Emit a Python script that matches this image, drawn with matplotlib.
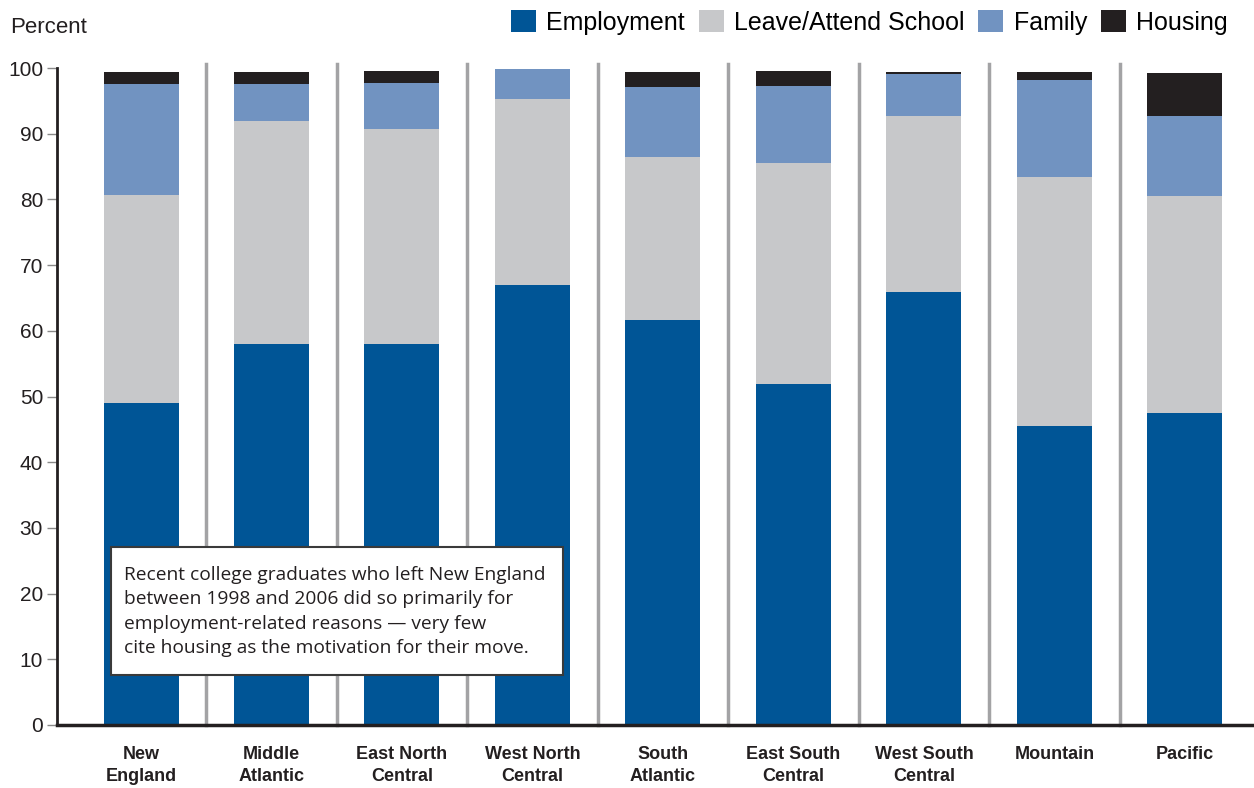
import matplotlib
matplotlib.use('Agg')
import matplotlib.pyplot as plt
from matplotlib.patches import Rectangle, Patch
import numpy as np

regions = ['New\nEngland', 'Middle\nAtlantic', 'East North\nCentral', 'West North\nCentral',
           'South\nAtlantic', 'East South\nCentral', 'West South\nCentral', 'Mountain', 'Pacific']
employment = [49.0, 58.0, 58.0, 67.0, 61.6, 51.9, 65.9, 45.5, 47.5]
school = [31.7, 33.9, 32.7, 28.3, 24.9, 33.6, 26.8, 37.9, 33.0]
family = [16.9, 5.7, 7.0, 4.5, 10.6, 11.8, 6.4, 14.8, 12.2]
housing = [1.8, 1.8, 1.8, 0.0, 2.3, 2.2, 0.3, 1.2, 6.5]
y_ticks = [0, 10, 20, 30, 40, 50, 60, 70, 80, 90, 100]

series = [('Employment', employment, '#005596'),
          ('Leave/Attend School', school, '#c7c8ca'),
          ('Family', family, '#7193c1'),
          ('Housing', housing, '#231f20')]

plt.rcParams['font.family'] = ['Liberation Sans', 'DejaVu Sans']

W, H = 1254, 788
fig = plt.figure(figsize=(W / 100, H / 100), dpi=100)
ax = fig.add_axes([57 / W, 63 / H, (W - 57) / W, 657 / H])

x = np.arange(len(regions))
bottom = np.zeros(len(regions))
for name, vals, col in series:
    ax.bar(x, vals, width=0.575, bottom=bottom, color=col, label=name, zorder=2)
    bottom += np.array(vals)

# gray separators between regions
for i in range(len(regions) - 1):
    ax.axvline(i + 0.5, ymin=0, ymax=661 / 657, color='#a3a3a5', lw=2.5,
               clip_on=False, zorder=1)

ax.set_xlim(-0.644, 8.53)
ax.set_ylim(0, 100)
for s in ['top', 'right']:
    ax.spines[s].set_visible(False)
ax.spines['left'].set_linewidth(2)
ax.spines['bottom'].set_linewidth(2.5)
ax.spines['left'].set_color('#231f20')
ax.spines['bottom'].set_color('#231f20')

ax.set_yticks(y_ticks)
ax.set_yticklabels([str(v) for v in y_ticks], fontsize=15, color='#231f20')
ax.tick_params(axis='y', length=7, width=1, color='#888888', pad=3)
ax.set_xticks(x)
ax.set_xticklabels(regions, fontsize=13, fontweight='bold',
                   color='#231f20', linespacing=1.4, va='top')
ax.tick_params(axis='x', length=0, pad=15)

fig.text(10 / W, 1 - 33 / H, 'Percent', fontsize=16, color='#231f20',
         ha='left', va='baseline')

handles = [Patch(facecolor=c, edgecolor='none', label=n) for n, _, c in series]
fig.legend(handles=handles, loc='upper right', bbox_to_anchor=(1228 / W, 1 - 10 / H),
           ncol=4, frameon=False, handlelength=1.0, handleheight=1.0,
           handletextpad=0.42, columnspacing=0.55, borderpad=0, borderaxespad=0,
           prop={'size': 18})

# annotation box
fig.patches.append(Rectangle((111 / W, 1 - 675 / H), 452 / W, 128 / H,
                             transform=fig.transFigure, facecolor='white',
                             edgecolor='#3a3a3a', lw=1.5, zorder=5))
note = ('Recent college graduates who left New England\n'
        'between 1998 and 2006 did so primarily for\n'
        'employment-related reasons \u2014 very few\n'
        'cite housing as the motivation for their move.')
fig.text(124 / W, 1 - 566 / H, note, family=['Open Sans', 'DejaVu Sans'], fontsize=13.8,
         color='#231f20', ha='left', va='top', linespacing=1.45, zorder=6)

fig.savefig('out.png', dpi=100)
